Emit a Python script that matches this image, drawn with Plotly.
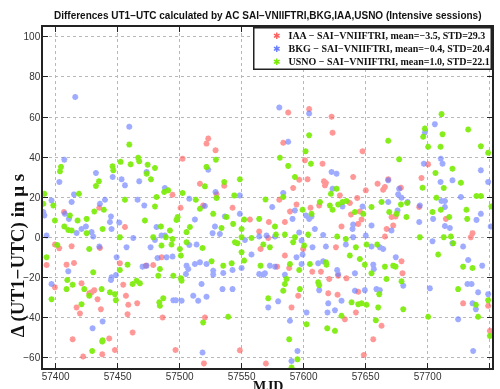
import plotly.graph_objects as go

# ---------------- data ----------------
iaa_mjd = [57502.4, 57523.1, 57521.7, 57529.0, 57536.0, 57516.4, 57529.8, 57435.2, 57406.7, 57455.9,
           57494.3, 57500.8, 57519.0, 57542.7, 57556.7, 57399.4, 57402.9, 57412.9, 57435.7, 57392.7,
           57408.8, 57414.8, 57420.9, 57429.0, 57431.2, 57427.1, 57433.8, 57416.9, 57419.6, 57436.5,
           57451.8, 57454.5, 57456.7, 57458.6, 57465.8, 57458.0, 57478.7, 57472.8, 57485.5, 57486.3,
           57520.4, 57462.1, 57413.7, 57443.2, 57399.4,
           57578.7, 57588.4, 57584.9, 57607.0, 57614.0, 57620.7, 57627.9, 57634.6, 57679.0, 57679.8,
           57644.1, 57619.9, 57627.4, 57595.7, 57590.3, 57642.2, 57633.3, 57662.9, 57656.2, 57728.7,
           57748.9, 57750.3,
           57422.2, 57437.6, 57447.8, 57496.7, 57519.6, 57548.6, 57569.6, 57648.6,
           57587.6, 57604.5, 57622.6, 57623.4, 57583.6, 57647.6, 57601.1, 57615.3, 57596.5, 57603.2,
           57616.4, 57618.0, 57617.2, 57640.0, 57591.6, 57629.3, 57650.2, 57659.7, 57664.2, 57665.6,
           57668.3, 57678.5, 57695.1, 57700.5, 57580.4, 57594.3, 57589.0, 57584.9, 57572.0, 57605.6,
           57612.6, 57637.3, 57643.3, 57645.4, 57646.8, 57644.1, 57638.2, 57630.6, 57667.0, 57672.3,
           57671.0, 57674.2, 57693.3, 57714.8, 57736.3, 57734.9, 57665.6, 57626.1, 57599.7, 57564.2,
           57571.5, 57565.3]
iaa_val = [39.3, 49.3, 46.8, 43.5, 25.8, 26.8, 21.5, 14.8, 12.7, 5.2,
           21.3, 14.8, 16.0, 14.8, 9.0, -3.5, -5.3, -4.3, -5.2, -13.7,
           -13.5, -12.7, -22.8, -27.3, -26.2, -27.8, -30.7, -34.8, -37.8, -35.7,
           -12.8, -23.5, -29.0, -33.5, -32.7, -38.2, -13.7, -14.0, -9.8, -39.8,
           -39.8, -47.3, -50.7, -50.3, -24.8,
           -14.5, -15.2, -9.0, -17.0, -17.0, -20.7, -19.0, -20.3, -11.8, -17.8,
           -27.0, -27.8, -28.5, -29.0, -34.8, -37.3, -40.7, -44.0, -50.7, -32.8,
           -34.0, -46.5,
           -59.3, -58.2, -56.0, -56.0, -62.7, -56.2, -62.8, -58.5,
           62.3, 64.0, 60.2, 52.2, 47.2, 43.0, 38.5, 36.8, 28.8, 29.0,
           28.0, 27.2, 26.0, 30.2, 24.7, 21.0, 23.5, 26.8, 23.8, 25.2,
           29.0, 24.8, 29.7, 36.5, 18.8, 16.5, 13.0, 7.7, 7.7, 14.8,
           16.0, 17.2, 19.7, 13.0, 9.0, 6.8, 11.5, 5.5, 4.3, 6.0,
           10.2, 10.5, 15.2, 9.3, 2.2, 0.2, 0.5, -4.8, -5.7, 3.0,
           -0.2, -5.7]

bkg_mjd = [57415.8, 57459.4, 57407.0, 57403.0, 57396.7, 57414.8, 57412.9, 57432.5, 57446.0, 57453.2,
           57455.9, 57467.4, 57473.4, 57466.1, 57439.8, 57435.7, 57407.5, 57410.7, 57444.6, 57443.8,
           57451.3, 57416.9, 57420.9, 57424.4, 57429.0, 57430.3, 57445.1, 57471.5, 57488.1, 57507.8,
           57520.4, 57523.1, 57529.0, 57548.6, 57536.5, 57548.6, 57512.3, 57481.4, 57485.4, 57488.1,
           57457.2, 57462.6, 57480.1, 57476.6, 57507.8, 57513.7, 57526.6, 57528.5, 57532.5, 57552.7,
           57435.2, 57390.0, 57390.9, 57392.7,
           57410.2, 57396.7, 57445.1, 57444.6, 57448.6, 57473.4, 57470.1, 57482.2, 57489.5, 57494.3,
           57505.6, 57507.0, 57505.1, 57512.3, 57516.4, 57521.7, 57527.1, 57527.1, 57535.2, 57542.7,
           57550.0, 57517.7, 57511.0, 57521.7, 57515.0, 57494.9, 57497.0, 57501.6, 57534.6, 57542.7,
           57429.8, 57437.9, 57449.2,
           57558.0, 57564.2, 57567.5, 57568.8, 57572.8, 57576.9, 57584.9, 57579.5, 57571.5, 57589.0,
           57594.3, 57598.4, 57599.2, 57611.8, 57615.8, 57627.1, 57627.9, 57612.6, 57619.9, 57630.6,
           57619.3, 57602.4, 57625.3, 57641.4, 57641.4, 57649.4, 57658.8, 57661.5, 57656.2, 57656.7,
           57674.4, 57680.4, 57724.7, 57732.2, 57735.5, 57736.3, 57739.0, 57748.9, 57744.1, 57732.8,
           57701.9, 57740.8,
           57518.5, 57595.1, 57590.3, 57736.8,
           57580.4, 57604.5, 57587.6, 57705.9, 57697.8, 57697.0, 57710.7, 57712.1, 57622.6, 57626.6,
           57710.5, 57720.1, 57743.0, 57748.9, 57623.4, 57668.3, 57677.1, 57676.3, 57679.0, 57683.9,
           57583.6, 57574.7, 57593.0, 57591.1, 57601.9, 57604.5, 57606.4, 57631.4, 57647.6, 57668.3,
           57654.8, 57640.0, 57639.5, 57670.9, 57675.8, 57693.8, 57693.3, 57704.5, 57711.3, 57714.0,
           57714.0, 57714.0, 57718.0, 57726.9, 57743.0, 57739.5, 57751.0, 57704.0, 57720.1, 57728.7,
           57615.8, 57596.5, 57609.1, 57598.4, 57607.2, 57618.0, 57634.1, 57640.0, 57650.2, 57654.8,
           57661.5, 57664.2, 57564.2, 57570.1, 57576.9]
bkg_val = [70.0, 55.2, 38.8, 27.7, 18.5, 21.5, 17.7, 32.2, 30.2, 29.0,
           26.0, 28.0, 32.7, 18.8, 18.8, 16.8, 11.8, 9.3, 10.5, 7.7,
           7.5, 2.3, 4.3, 5.5, 2.7, 0.5, 4.3, 16.0, 24.7, 19.3,
           15.7, 33.8, 22.7, 21.0, 10.5, 11.8, 9.0, 5.2, 1.0, 1.0,
           -4.8, -0.2, -1.2, -4.8, -3.7, -3.5, 2.2, 5.5, 1.8, -1.2,
           -4.5, 12.7, 11.0, 1.0,
           -16.8, -23.2, -19.8, -21.2, -18.7, -14.0, -14.5, -10.2, -9.8, -9.5,
           -14.0, -15.7, -18.2, -13.2, -12.3, -13.2, -16.5, -18.5, -17.7, -16.2,
           -15.2, -23.2, -29.0, -29.5, -31.5, -31.2, -31.2, -31.5, -25.7, -25.7,
           -45.2, -41.8, -9.8,
           -8.5, -18.2, -18.5, -17.8, -14.0, -14.5, -18.5, -31.8, -34.8, -41.5,
           -9.8, -13.2, -8.5, -12.8, -11.8, -16.2, -18.2, -26.2, -32.8, -31.5,
           -37.3, -37.3, -36.2, -17.8, -26.5, -26.2, -25.7, -26.2, -13.5, -15.7,
           -9.8, -24.0, -40.7, -23.2, -23.2, -32.8, -35.7, -28.2, -14.0, -11.2,
           -25.3, -27.3,
           -57.3, -56.5, -61.5, -56.5,
           64.8, 61.8, 47.7, 56.5, 52.3, 36.8, 39.3, 36.8, 32.7, 31.8,
           27.7, 28.5, 33.5, 27.7, 24.3, 28.5, 24.3, 21.5, 19.8, 17.7,
           22.2, 15.2, 13.5, 9.3, 11.0, 9.3, 10.5, 15.5, 15.5, 17.7,
           6.0, 6.5, 4.3, 3.5, 13.5, 16.0, 7.7, 9.3, 18.2, 18.2,
           15.2, 5.7, 4.8, 20.2, 11.8, 8.8, 5.5, -1.8, -2.8, -4.5,
           1.3, 2.5, 4.3, -1.5, -4.8, -4.5, -3.5, 0.2, 1.0, -4.5,
           -4.8, -5.7, 0.5, 1.0, 0.5]

usno_mjd = [57459.4, 57529.3, 57521.7, 57452.4, 57460.5, 57466.6, 57467.4, 57474.2, 57480.1, 57473.4,
            57476.9, 57445.9, 57446.5, 57434.9, 57432.5, 57404.3, 57403.5, 57548.6, 57536.0, 57520.4,
            57529.8, 57544.1, 57398.1, 57418.8, 57455.9, 57438.9, 57431.2, 57411.5, 57399.4, 57425.0,
            57417.7, 57407.0, 57410.2, 57412.9, 57425.0, 57437.9, 57472.0, 57480.1, 57481.4, 57487.6,
            57490.8, 57502.4, 57513.1, 57516.4, 57527.1, 57537.9, 57552.1, 57508.3, 57505.6, 57498.4,
            57497.5, 57484.9, 57492.2, 57488.9, 57494.3, 57451.8, 57478.7, 57485.4, 57493.5, 57500.2,
            57505.6, 57518.5, 57533.8, 57543.2, 57550.0, 57544.6, 57546.7, 57550.0, 57401.3, 57427.1,
            57390.0, 57390.9, 57392.7,
            57409.4, 57413.7, 57408.8, 57423.1, 57427.1, 57437.1, 57443.8, 57447.8, 57448.6, 57420.9,
            57430.3, 57451.8, 57458.0, 57465.3, 57468.0, 57462.1, 57484.1, 57482.8, 57494.9, 57501.6,
            57501.0, 57486.8, 57483.6, 57484.1, 57539.2, 57519.0, 57542.0, 57552.1, 57535.2, 57525.8,
            57550.0, 57437.9, 57396.7, 57501.0, 57437.6, 57429.5,
            57565.3, 57589.0, 57596.5, 57584.9, 57586.3, 57597.0, 57571.5, 57605.1, 57611.8, 57612.6,
            57618.5, 57618.0, 57637.3, 57638.7, 57644.1, 57646.8, 57650.8, 57660.2, 57630.6, 57658.3,
            57645.4, 57649.4, 57654.8, 57661.0, 57665.6, 57666.9, 57672.3, 57674.2, 57679.0, 57680.4,
            57708.6, 57724.7, 57728.7, 57736.3, 57739.0, 57740.8, 57748.9, 57750.3, 57588.4, 57602.4,
            57619.1, 57625.3, 57700.5, 57583.6, 57595.1, 57590.3,
            57604.5, 57580.9, 57587.6, 57593.0, 57601.6, 57605.9, 57668.3, 57677.1, 57697.8, 57696.5,
            57711.3, 57712.1, 57732.8, 57700.5, 57710.5, 57743.0, 57748.9, 57706.4, 57720.1, 57726.9,
            57713.1, 57696.0, 57626.6, 57622.0, 57583.6, 57569.3, 57613.2, 57621.2, 57627.9, 57631.4,
            57634.6, 57623.4, 57599.2, 57606.4, 57564.2, 57576.9, 57584.9, 57593.0, 57591.6, 57603.7,
            57600.5, 57627.1, 57641.4, 57648.1, 57654.8, 57662.9, 57669.1, 57675.0, 57683.0, 57683.6,
            57678.5, 57704.0, 57707.2, 57710.7, 57717.5, 57731.4, 57732.0, 57739.5, 57743.0, 57751.5,
            57693.8, 57713.1, 57718.8, 57720.7, 57558.0, 57567.5, 57572.8, 57577.7, 57634.1, 57642.2,
            57650.8, 57659.4]
usno_val = [46.3, 38.8, 35.2, 37.7, 36.5, 39.8, 38.0, 36.3, 34.7, 31.8,
            29.0, 35.5, 33.5, 28.0, 25.7, 35.2, 33.0, 29.0, 27.7, 25.5,
            19.7, 21.0, 16.0, 21.8, 18.8, 13.8, 13.0, 11.0, 8.5, 9.3,
            8.5, 5.5, 3.8, 3.5, 2.2, 4.3, 8.5, 15.5, 20.2, 22.7,
            23.5, 22.2, 18.8, 14.3, 11.8, 10.2, 9.0, 5.2, 2.7, 10.2,
            8.8, 5.5, 3.5, 0.2, -0.7, 0.2, 0.2, -4.0, -3.5, -5.7,
            -2.3, -5.2, 4.8, 6.8, 4.3, -2.3, -2.8, 0.2, -3.7, -5.7,
            16.8, 21.8, -9.8,
            -21.2, -23.5, -25.7, -25.7, -29.0, -25.7, -27.3, -28.2, -31.2, -33.2,
            -17.3, -16.2, -13.5, -21.5, -22.8, -23.2, -15.7, -19.0, -19.0, -21.5,
            -20.3, -30.2, -32.3, -34.0, -39.5, -42.3, -12.8, -11.5, -14.0, -11.8,
            -7.3, -51.2, -30.7, -9.0, -51.8, -56.5,
            -14.0, -13.2, -16.2, -23.2, -20.7, -25.7, -30.3, -13.2, -22.3, -23.7,
            -13.5, -12.3, -9.0, -32.3, -33.2, -32.8, -33.5, -34.8, -39.0, -41.2,
            -10.7, -13.5, -17.8, -28.2, -14.5, -20.7, -14.0, -14.5, -21.8, -35.7,
            -8.5, -25.7, -14.5, -15.2, -33.5, -39.5, -31.2, -49.0, -50.7, -43.2,
            -45.2, -46.5, -39.5, -26.5, -60.7, -64.8,
            51.0, 39.8, 35.7, 30.2, 43.0, 36.8, 48.2, 39.0, 54.3, 50.2,
            61.5, 51.5, 53.8, 45.2, 45.2, 45.5, 42.2, 32.2, 34.3, 27.3,
            24.7, 24.8, 24.3, 21.8, 20.2, 19.0, 17.7, 16.0, 16.5, 17.7,
            18.2, 13.8, 13.8, 11.8, 9.3, 5.5, 1.5, 0.2, -2.3, 1.5,
            -4.0, 0.5, 12.7, 11.8, 15.2, 17.7, 12.7, 11.8, 10.2, 17.2,
            16.5, 12.7, 19.8, 13.8, 10.2, 13.8, 9.3, 20.7, 20.7, 15.5,
            0.2, 0.2, 0.5, -2.8, -0.2, -3.5, -4.8, 1.5, -0.7, -4.8,
            -3.5, -3.5]

series_names = ["IAA \u2212 SAI\u2212VNIIFTRI, mean=\u22123.5, STD=29.3",
                "BKG \u2212 SAI\u2212VNIIFTRI, mean=\u22120.4, STD=20.4",
                "USNO \u2212 SAI\u2212VNIIFTRI, mean=1.0, STD=22.1"]
series_colors = ["rgb(255,95,95)", "rgb(105,125,255)", "rgb(120,235,0)"]
series_opacity = [0.65, 0.65, 0.9]

x_ticks = [57400, 57450, 57500, 57550, 57600, 57650, 57700, 57750]
y_ticks = [-60, -40, -20, 0, 20, 40, 60, 80, 100]

# ---------------- figure ----------------
fig = go.Figure()
for xs, ys, name, col, op in zip([iaa_mjd, bkg_mjd, usno_mjd], [iaa_val, bkg_val, usno_val],
                                 series_names, series_colors, series_opacity):
    fig.add_trace(go.Scatter(
        x=xs, y=ys, mode="markers", name=name, opacity=op, showlegend=False,
        marker=dict(symbol="asterisk-open", size=5, color=col,
                    line=dict(color=col, width=1.8)),
    ))

axis_common = dict(
    showline=True, linecolor="#222", linewidth=1.5, mirror="allticks",
    ticks="inside", ticklen=5, tickcolor="#222", automargin=False,
    showgrid=True, gridcolor="#b8b8b8", griddash="dot", gridwidth=1,
    zeroline=False,
    tickfont=dict(family="Liberation Sans, Arial", size=10, color="#333"),
)

# legend drawn as a boxed text block (MATLAB-style compact legend)
NB = "\u00a0"
legend_lines = []
for name, col in zip(series_names, series_colors):
    legend_lines.append(NB * 7 + "<span style='color:%s;font-size:9px'>\u2731</span>" % col
                        + NB * 3 + "<b>%s</b>" % name)
legend_text = "<br>".join(legend_lines)

fig.update_layout(
    width=500, height=389,
    paper_bgcolor="white", plot_bgcolor="white",
    margin=dict(l=43, r=8, t=27, b=21),
    xaxis=dict(range=[57389.8, 57752], tickvals=x_ticks,
               ticktext=[str(v) for v in x_ticks], ticklabelstandoff=-2,
               **axis_common),
    yaxis=dict(range=[-65, 104.9], tickvals=y_ticks, ticklabelstandoff=-1,
               **axis_common),
    annotations=[
        dict(text="<b>Differences UT1\u2212UTC calculated by AC SAI\u2212VNIIFTRI,BKG,IAA,USNO (Intensive sessions)</b>",
             xref="paper", yref="paper", x=0.5, y=1.033, xanchor="center", yanchor="middle",
             showarrow=False, font=dict(family="Liberation Sans, Arial", size=10, color="#111")),
        dict(text="<b>\u0394 (UT1\u2212UTC) in \u03bc s</b>", textangle=-90,
             xref="paper", yref="paper", x=-0.054, y=0.33,
             xanchor="center", yanchor="middle", showarrow=False,
             font=dict(family="Liberation Serif, Times New Roman", size=19, color="#111")),
        dict(text="<b>MJD</b>", xref="paper", yref="paper", x=0.5, y=-0.026,
             xanchor="center", yanchor="top", showarrow=False,
             font=dict(family="Liberation Serif, Times New Roman", size=14, color="#111")),
        dict(text=legend_text, xref="paper", yref="paper", x=1, y=1,
             xanchor="right", yanchor="top", align="left", showarrow=False,
             width=234, height=38,
             bgcolor="white", bordercolor="#222", borderwidth=1.5, borderpad=1,
             font=dict(family="Liberation Serif, Times New Roman", size=10, color="#111")),
    ],
    showlegend=False,
)

fig.write_html("out.html", config={"displayModeBar": False},
               post_script="document.body.style.margin='0';document.body.style.overflow='hidden';")
